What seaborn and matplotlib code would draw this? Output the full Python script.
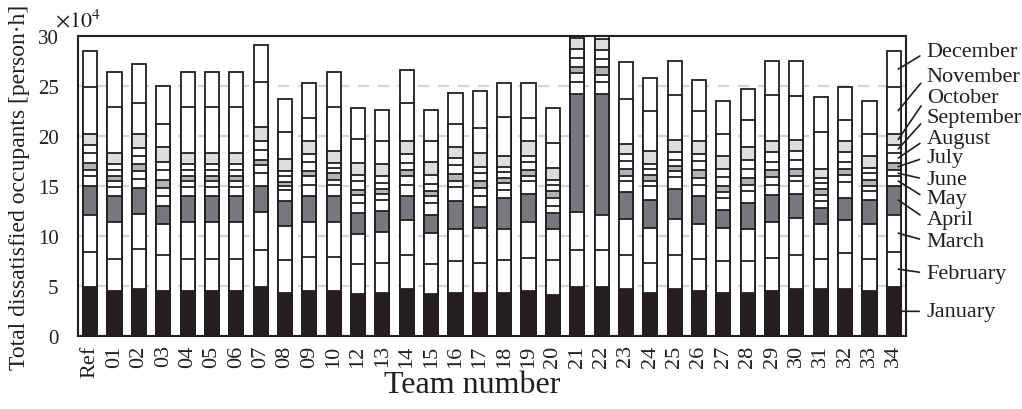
import numpy as np
import pandas as pd
import matplotlib
matplotlib.use("Agg")
import matplotlib.pyplot as plt
import seaborn as sns

# Team labels (team 11 is absent)
teams = ["Ref", "01", "02", "03", "04", "05", "06", "07", "08", "09", "10",
         "12", "13", "14", "15", "16", "17", "18", "19", "20", "21", "22",
         "23", "24", "25", "26", "27", "28", "29", "30", "31", "32", "33", "34"]

# Monthly dissatisfied occupants per team [x10^4 person*h]
january = [4.95, 4.52, 4.75, 4.52, 4.52, 4.52, 4.52, 4.91, 4.35, 4.52, 4.52, 4.18, 4.35, 4.68, 4.18, 4.35, 4.35,
           4.35, 4.52, 4.12, 4.91, 4.91, 4.75, 4.35, 4.75, 4.52, 4.35, 4.35, 4.52, 4.75, 4.68, 4.75, 4.52, 4.95]
february = [3.48, 3.21, 3.95, 3.58, 3.21, 3.21, 3.21, 3.66, 3.22, 3.38, 3.38, 2.99, 2.99, 3.42, 2.99, 3.15, 2.99,
            3.25, 3.32, 3.48, 3.66, 3.66, 3.32, 2.99, 3.32, 3.22, 3.15, 3.15, 3.32, 3.32, 3.06, 3.52, 3.22, 3.48]
march = [3.72, 3.65, 3.47, 3.12, 3.65, 3.65, 3.65, 3.81, 3.43, 3.48, 3.48, 3.06, 3.09, 3.48, 3.16, 3.25, 3.46,
         3.15, 3.55, 3.06, 3.81, 3.58, 3.65, 3.48, 3.65, 3.48, 3.32, 3.22, 3.55, 3.75, 3.48, 3.32, 3.48, 3.72]
april = [2.89, 2.66, 2.63, 1.83, 2.66, 2.66, 2.66, 2.59, 2.48, 2.66, 2.66, 2.09, 2.12, 2.46, 1.82, 2.73, 2.12,
         3.06, 2.85, 1.66, 11.82, 12.05, 2.66, 2.83, 3.02, 2.76, 1.83, 2.59, 2.69, 2.42, 1.60, 2.22, 2.43, 2.89]
may = [0.93, 0.86, 0.90, 0.99, 0.86, 0.86, 0.86, 1.33, 1.16, 1.10, 1.10, 0.99, 1.10, 1.10, 1.16, 1.39, 1.05,
       0.79, 1.23, 0.73, 1.23, 1.23, 1.09, 1.32, 1.16, 1.16, 1.16, 1.16, 1.02, 1.23, 0.66, 1.56, 0.83, 0.93]
june = [0.60, 0.57, 0.80, 0.74, 0.57, 0.57, 0.57, 0.83, 0.36, 0.83, 0.50, 0.83, 0.59, 0.83, 0.66, 0.67, 0.84,
        0.70, 0.57, 0.76, 0.83, 0.67, 0.57, 0.50, 0.57, 0.66, 0.57, 0.67, 0.77, 0.57, 0.66, 0.70, 0.56, 0.60]
july = [0.73, 0.57, 0.70, 0.79, 0.57, 0.57, 0.57, 0.50, 0.40, 0.58, 0.66, 0.50, 0.47, 0.60, 0.50, 0.66, 0.66,
        0.50, 0.59, 0.67, 0.60, 0.80, 0.66, 0.60, 0.56, 0.77, 0.66, 0.63, 0.76, 0.66, 0.57, 0.63, 0.60, 0.73]
august = [1.00, 0.56, 0.76, 1.03, 0.56, 0.56, 0.56, 1.00, 0.60, 0.85, 0.50, 0.86, 0.59, 0.73, 0.73, 0.90, 0.83,
          0.60, 0.77, 0.62, 0.94, 0.80, 0.80, 0.63, 0.57, 0.93, 0.86, 0.93, 0.77, 0.90, 0.59, 0.70, 0.66, 1.00]
september = [0.80, 0.63, 0.83, 0.76, 0.63, 0.63, 0.63, 0.83, 0.47, 0.80, 0.50, 0.57, 0.73, 0.93, 0.94, 0.70, 0.60,
             0.50, 0.63, 0.54, 0.95, 0.90, 0.69, 0.53, 0.76, 0.73, 0.80, 0.86, 0.96, 0.86, 0.50, 0.96, 0.50, 0.80]
october = [1.10, 1.07, 1.41, 1.54, 1.07, 1.07, 1.07, 1.49, 1.26, 1.30, 1.16, 1.23, 1.17, 1.29, 1.22, 1.15, 1.40,
           1.15, 1.43, 1.16, 1.10, 1.15, 1.00, 1.23, 1.26, 1.23, 1.26, 1.33, 1.10, 1.16, 0.90, 1.10, 1.23, 1.10]
november = [4.67, 4.64, 3.15, 2.30, 4.64, 4.64, 4.64, 4.48, 2.72, 2.28, 4.48, 2.38, 2.32, 3.76, 2.16, 2.25, 2.55,
            3.90, 2.32, 2.49, 4.50, 4.50, 4.51, 4.08, 4.48, 3.08, 2.26, 2.72, 4.64, 4.42, 3.75, 2.15, 2.19, 4.67]
december = [3.63, 3.46, 3.90, 3.83, 3.46, 3.46, 3.46, 3.65, 3.25, 3.49, 3.48, 3.10, 3.09, 3.31, 3.09, 3.07, 3.65,
            3.32, 3.49, 3.49, 3.60, 3.60, 3.66, 3.29, 3.42, 3.06, 3.32, 3.09, 3.42, 3.48, 3.42, 3.26, 3.32, 3.63]

month_names = ["January", "February", "March", "April", "May", "June", "July",
               "August", "September", "October", "November", "December"]
month_values = [january, february, march, april, may, june, july,
                august, september, october, november, december]
month_colors = ["#231f20", "#ffffff", "#ffffff", "#77787b", "#ffffff", "#ffffff",
                "#b1b3b6", "#ffffff", "#ffffff", "#dcddde", "#ffffff", "#ffffff"]

# vertical position of each month's callout text (data units)
label_y = [2.46, 6.27, 9.49, 11.65, 13.71, 15.64, 17.9, 19.72, 21.88, 23.83, 26.0, 28.42]

sns.set_style("white")
plt.rcParams["font.family"] = ["Liberation Serif", "DejaVu Serif"]
plt.rcParams["mathtext.fontset"] = "stix"
ink = "#231f20"

df = pd.DataFrame({name: vals for name, vals in zip(month_names, month_values)}, index=teams)
cum = df.cumsum(axis=1)

fig = plt.figure(figsize=(10.22, 4.10), dpi=100)
ax = fig.add_axes([78 / 1022, 1 - 337 / 410, 828 / 1022, 300 / 410])

# stacked bars: draw cumulative totals from the top month down
for name, color in reversed(list(zip(month_names, month_colors))):
    sns.barplot(x=teams, y=cum[name].values, order=teams, color=color, saturation=1,
                edgecolor=ink, linewidth=1.3, width=0.58, errorbar=None, ax=ax, zorder=2)

ax.set_ylim(0, 30)
ax.set_xlim(-0.5, len(teams) - 0.5)
ax.set_yticks(np.arange(0, 31, 5))
ax.set_yticklabels([str(v) for v in range(0, 31, 5)], fontsize=15, color=ink)
ax.tick_params(axis="y", length=0, pad=14)
ax.tick_params(axis="x", length=0, pad=6)
ax.set_xticks(range(len(teams)))
ax.set_xticklabels(teams, rotation=90, fontsize=16, color=ink)

ax.yaxis.grid(True, linestyle=(0, (5, 4)), color="#d4d4d4", linewidth=1.6, zorder=0)
ax.set_axisbelow(True)
for sp in ax.spines.values():
    sp.set_visible(True)
    sp.set_color(ink)
    sp.set_linewidth(1.5)
    sp.set_zorder(5)

ax.set_ylabel("Total dissatisfied occupants [person\u00b7h]", fontsize=17, color=ink)
ax.yaxis.set_label_coords(-0.058, 0.5)
ax.set_xlabel("Team number", fontsize=23, color=ink)
ax.xaxis.set_label_coords(0.476, -0.115)

fig.text(55 / 1022, 1 - 27 / 410, r"$\times10^{4}$", fontsize=16, color=ink, va="baseline", ha="left")

# month callouts pointing at the segments of the last bar
last = teams[-1]
last_idx = len(teams) - 1
bottoms = cum.loc[last] - df.loc[last]
for name, ty in zip(month_names, label_y):
    mid = bottoms[name] + df.loc[last, name] / 2
    ax.annotate(name, xy=(last_idx + 0.18, mid), xytext=(last_idx + 1.35, ty),
                textcoords="data", ha="left", va="center", fontsize=16, color=ink,
                annotation_clip=False,
                arrowprops=dict(arrowstyle="-", color=ink, lw=1.2, shrinkA=3, shrinkB=0,
                                relpos=(0, 0.5)))

fig.savefig("out.png", dpi=100)
